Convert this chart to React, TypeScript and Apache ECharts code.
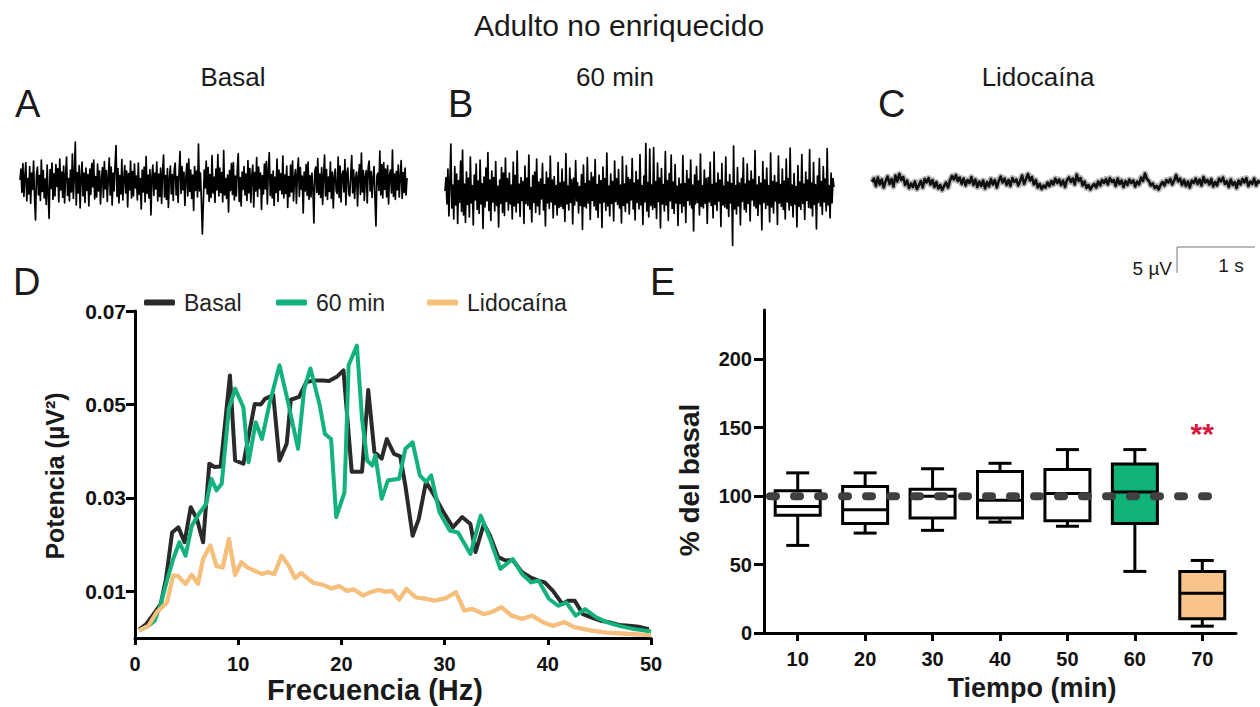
import React, { useEffect, useRef } from "react";
import * as echarts from "echarts";

const FONT = "Liberation Sans, Arial, sans-serif";

// ---------- Panel D : power spectra ----------
const basalFreq = [0.4, 1.1, 1.7, 2.5, 3.0, 3.6, 4.2, 4.8, 5.4, 6.0, 6.6, 7.2, 7.7, 8.3, 9.2, 9.7, 10.5, 11.6, 12.2, 12.6, 13.4, 14.0, 14.7, 15.1, 15.9, 16.6, 17.3, 18.2, 18.8, 19.6, 20.2, 21.0, 22.0, 22.6, 23.2, 23.9, 24.4, 25.1, 25.7, 26.2, 26.9, 27.5, 28.2, 29.0, 29.9, 30.8, 31.7, 32.5, 33.0, 33.8, 34.4, 35.2, 35.9, 36.6, 37.5, 38.3, 39.1, 39.7, 40.5, 41.4, 42.0, 42.6, 43.4, 44.2, 45.1, 45.9, 46.9, 47.9, 48.8, 49.8];
const basalPower = [0.0018, 0.003, 0.0048, 0.0073, 0.0126, 0.0226, 0.0237, 0.0205, 0.028, 0.0255, 0.0205, 0.0373, 0.0366, 0.0367, 0.0562, 0.038, 0.0373, 0.0501, 0.05, 0.0512, 0.052, 0.038, 0.0416, 0.051, 0.0516, 0.0548, 0.0551, 0.0551, 0.055, 0.056, 0.0573, 0.0356, 0.0356, 0.0531, 0.0398, 0.0384, 0.0426, 0.0394, 0.0389, 0.0326, 0.0219, 0.0255, 0.0334, 0.0305, 0.0269, 0.0237, 0.0259, 0.0244, 0.0184, 0.0244, 0.0219, 0.0173, 0.0166, 0.0167, 0.0141, 0.013, 0.0123, 0.0119, 0.0101, 0.0073, 0.008, 0.008, 0.0051, 0.0044, 0.0037, 0.0034, 0.0028, 0.0026, 0.0024, 0.0019];

const min60Freq = [0.4, 1.3, 1.9, 2.5, 3.1, 3.7, 4.3, 4.9, 5.5, 6.2, 6.9, 7.4, 7.9, 8.4, 9.1, 9.7, 10.5, 11.0, 11.7, 12.3, 13.0, 14.0, 14.9, 15.8, 16.4, 17.0, 17.9, 18.4, 19.0, 19.5, 20.3, 20.7, 21.5, 22.0, 22.5, 23.0, 23.3, 23.9, 24.5, 25.6, 26.2, 26.9, 27.6, 28.2, 28.7, 29.5, 30.5, 31.3, 32.5, 33.5, 34.4, 35.4, 36.6, 37.5, 38.4, 39.1, 40.1, 41.0, 41.8, 42.7, 43.6, 44.7, 45.7, 46.9, 48.4, 50.0];
const min60Power = [0.0016, 0.0026, 0.0037, 0.0073, 0.0123, 0.0169, 0.0205, 0.0176, 0.024, 0.0266, 0.0287, 0.0341, 0.0316, 0.033, 0.0491, 0.0534, 0.0494, 0.0376, 0.0462, 0.0426, 0.0498, 0.0584, 0.0498, 0.0405, 0.0534, 0.0577, 0.0498, 0.0437, 0.0426, 0.0259, 0.0312, 0.0584, 0.0626, 0.0469, 0.038, 0.0369, 0.0391, 0.0298, 0.0337, 0.0341, 0.0405, 0.0419, 0.0348, 0.0334, 0.0348, 0.0269, 0.023, 0.0226, 0.018, 0.0262, 0.0212, 0.0148, 0.0169, 0.0137, 0.0119, 0.0123, 0.0084, 0.0069, 0.0076, 0.0048, 0.0062, 0.0044, 0.0034, 0.0026, 0.0019, 0.0014];

const lidoFreq = [0.4, 1.3, 2.1, 3.1, 3.7, 4.2, 4.9, 5.5, 6.1, 6.6, 7.3, 7.9, 8.5, 9.1, 9.7, 10.3, 10.9, 11.7, 12.3, 12.9, 13.5, 14.2, 14.9, 15.5, 16.1, 16.6, 17.3, 18.2, 19.0, 19.8, 20.5, 21.2, 22.1, 22.8, 23.6, 24.3, 24.9, 25.6, 26.3, 27.2, 28.2, 29.0, 30.1, 31.1, 31.9, 32.7, 33.8, 34.6, 35.5, 36.5, 37.5, 38.5, 39.5, 40.5, 41.6, 42.6, 44.2, 45.9, 47.5, 50.0];
const lidoPower = [0.0016, 0.0026, 0.0055, 0.0076, 0.0134, 0.0132, 0.0116, 0.0135, 0.0116, 0.0169, 0.0198, 0.0154, 0.0151, 0.0212, 0.0135, 0.0162, 0.0151, 0.0143, 0.0137, 0.0141, 0.0137, 0.0176, 0.0155, 0.0128, 0.0139, 0.013, 0.0118, 0.0114, 0.0106, 0.0111, 0.0101, 0.0104, 0.0091, 0.0098, 0.0103, 0.0099, 0.0101, 0.0082, 0.0105, 0.0087, 0.0084, 0.008, 0.0085, 0.0098, 0.0059, 0.0062, 0.0051, 0.0056, 0.0066, 0.0048, 0.0041, 0.0048, 0.0034, 0.0026, 0.0034, 0.0023, 0.0016, 0.0011, 0.0009, 0.0006];

const freqTicks = [0, 10, 20, 30, 40, 50];
const powerTicks = [0.01, 0.03, 0.05, 0.07];

// ---------- Panel E : box plots ----------
const timeCategories = ["10", "20", "30", "40", "50", "60", "70"];
const whiskerLow = [64, 73, 75, 81, 78, 45, 5];
const quartile1 = [86, 80, 84, 84, 82, 80, 10.5];
const medians = [92.5, 90, 100, 97, 102, 103, 29];
const quartile3 = [104, 107, 105, 118, 119.5, 123.5, 45];
const whiskerHigh = [117, 117, 120, 124, 134, 134, 53];
const percentTicks = [0, 50, 100, 150, 200];
const baselineLevel = 100;
const sigCategory = 6;
const sigLevel = 146;
const sigLabel = "**";

// ---------- Panels A-C : raw traces (µV) ----------
const traceBasal = [
  0.6, 2.8, -1.9, 3.9, -2.7, 1.2, 4.1, -3.6, 0.9, -2.2, 3.3, -4.1, 2.0, -1.3, 4.4, -2.9, -7.4, 1.8, 3.2, -2.4,
  1.5, -3.5, 4.6, -1.7, 2.5, -3.0, 0.8, -4.3, 3.6, -2.1, -7.1, 2.7, -1.1, 4.0, -3.3, 1.9, -2.6, 3.7, -0.7, 2.9,
  -3.8, 4.8, -1.4, 2.2, -2.9, 3.4, -4.0, 1.6, 5.2, -2.5, 0.9, -3.6, 2.6, -1.8, 5.8, -3.1, 1.4, 8.2, -4.4, 2.1,
  -2.0, 3.5, -5.0, 1.1, 4.2, -2.6, 2.0, -3.9, 3.0, -1.5, 1.7, -4.6, 2.8, -2.3, 3.9, -0.8, 4.6, -3.2, 1.3, -2.8,
  3.8, -1.6, 2.4, -4.2, 0.7, 3.1, -2.9, 4.3, -1.2, 2.5, -3.7, 1.0, 5.0, -2.4, 3.2, -4.4, 2.0, -1.6, 3.6, 7.5,
  -2.7, 2.9, -4.0, 1.5, -2.2, 4.7, -3.4, 0.6, 3.5, -2.0, 2.4, -4.8, 1.9, -1.4, 4.4, -3.0, 2.3, -2.6, 3.8, -1.0,
  1.4, -3.4, 4.0, -2.3, 0.9, -5.2, 2.6, -1.8, 3.2, -3.8, 5.3, -2.1, 1.6, -3.0, 2.7, -6.4, 1.2, 3.6, -2.5, 2.0,
  -1.2, 4.2, -3.6, 1.8, -2.7, 3.0, -4.1, 2.2, 5.6, -2.8, 1.5, -3.3, 2.9, -4.9, 0.8, 3.4, -2.2, 1.7, -3.5, 2.6,
  4.0, -2.4, 1.3, -3.9, 2.1, 6.3, -2.1, 3.3, -1.4, 2.2, -4.5, 1.0, 3.9, -2.6, 4.8, -1.7, 2.6, -3.1, 1.6, -5.5,
  3.3, -1.5, 2.4, -2.8, 7.8, -1.6, 2.0, -3.4, -10.2, -4.0, 2.6, -1.0, 4.4, -2.2, 3.1, -3.7, 1.7, -2.9, 5.5, -2.0,
  1.2, -3.9, 2.8, -1.4, 5.7, -2.6, 3.0, -1.9, 2.1, -3.8, 6.5, -2.4, 0.9, -3.1, 1.6, -5.8, 2.5, -1.5, 3.9, -2.3,
  4.1, -3.4, 1.4, -2.6, 2.5, 5.9, -3.7, 1.1, -4.6, 2.2, -1.3, 3.3, -2.4, 1.8, -3.5, 4.5, -2.0, 2.9, -3.9, 1.4,
  3.6, -4.8, 2.1, -1.6, 5.1, -2.7, 3.2, -1.1, 2.0, -5.3, 1.5, -2.2, 3.8, -1.2, 4.3, -4.2, 2.3, 6.1, -2.5, 1.7,
  -3.0, 2.4, -4.5, 1.2, -1.9, 4.8, -3.7, 2.6, -1.4, 1.9, -2.2, 5.4, -3.0, 1.6, -2.1, 3.4, -4.9, 1.3, -2.7, 3.6,
  -1.8, 4.4, -3.6, 1.0, 2.7, -4.1, 1.9, 5.0, -2.7, 3.1, -1.3, 1.4, -6.0, 2.2, -1.6, 3.7, -2.5, 4.2, -3.3, 1.5,
  -2.8, 2.0, -1.2, -8.0, 2.4, 3.2, -1.9, 4.9, -2.3, 1.8, -2.9, 3.1, -4.3, 1.5, 5.6, -2.6, 2.7, -3.3, 1.2, -1.7,
  4.2, -3.1, 2.2, -5.0, 1.3, 2.8, -1.6, -2.1, 5.2, -2.9, 3.4, -3.8, 1.6, 2.4, -1.8, 4.7, -4.4, 1.9, 3.0, -2.3,
  -2.6, 1.5, 5.5, -2.0, 2.6, -3.1, 1.0, 2.2, -4.6, 1.4, 3.7, -2.3, 6.0, -1.8, 2.5, -3.5, 1.2, 2.5, -4.0, 3.1,
  4.4, -1.6, 2.3, -2.9, 1.1, 3.3, -3.2, -8.6, 1.4, 2.0, -1.5, 6.4, -2.4, 3.7, -3.0, 4.1, -1.3, 2.8, -2.8, 3.5,
  -4.2, 1.6, 2.6, -2.0, 6.6, -2.7, 1.8, -3.3, 2.3, -1.4, 3.6, -2.8, 1.2, 4.5, -3.1, 2.1, -1.9, 3.0, -2.4, 1.0,
];
const trace60 = [
  0.4, 3.1, -2.2, 4.8, -4.6, 2.0, 9.8, -3.0, 1.6, -5.2, 5.3, -2.4, 3.8, -6.1, 2.5, -1.9, 6.4, -3.7, 8.6, -4.4,
  1.8, -5.9, 4.2, -2.3, 3.0, -4.8, 7.2, -2.0, 1.5, -6.4, 3.6, -1.4, 5.8, -3.3, 2.4, -4.1, 6.6, -2.2, 1.9, -7.1,
  3.2, -2.8, 5.0, -1.6, 8.1, -3.5, 2.6, -5.5, 4.4, -1.8, 3.1, -3.6, 6.3, -2.5, 1.4, -6.8, 2.6, -2.1, 5.1, -3.9,
  4.0, -4.5, 7.0, -1.7, 2.9, -3.4, 4.0, -2.2, 1.6, -5.2, 6.2, -2.6, 3.5, -3.8, 8.4, -2.0, 1.8, -4.7, 3.1, -1.5,
  2.3, -6.1, 5.4, -2.1, 3.0, -2.5, 7.6, -3.2, 1.1, -5.8, 3.5, -1.9, 4.2, -3.9, 6.8, -2.6, 2.2, -4.3, 2.8, -1.2,
  5.9, -3.4, 1.7, -6.6, 4.2, -2.0, 3.0, -3.1, 7.4, -1.8, 2.6, -5.0, 3.3, -2.3, 1.5, -4.4, 6.1, -2.9, 2.0, -2.7,
  4.8, -3.1, 2.2, -5.7, 7.9, -2.2, 1.4, -3.4, 5.0, -1.9, 2.7, -6.2, 3.0, -2.4, 6.5, -1.6, 2.1, -4.0, 1.3, -2.5,
  3.7, -7.3, 5.6, -2.7, 1.9, -3.0, 7.1, -2.0, 2.4, -5.3, 4.1, -1.5, 3.2, -2.6, 6.7, -3.4, 1.7, -4.9, 3.6, -2.0,
  2.5, -6.9, 5.2, -1.8, 2.9, -3.5, 8.0, -2.6, 1.4, -4.6, 3.8, -2.1, 2.3, -5.6, 6.4, -1.7, 2.9, -2.3, 4.7, -3.0,
  1.6, -6.0, 7.3, -2.5, 1.8, -3.7, 5.5, -2.0, 3.1, -4.2, 2.7, -1.4, 6.9, -3.2, 2.0, -5.4, 4.3, -1.9, 2.6, -3.2,
  7.7, -2.4, 1.5, -6.3, 3.4, -1.8, 9.9, -3.6, 2.1, -4.8, 8.8, -2.5, 1.6, -3.3, 9.1, -2.9, 2.3, -5.1, 6.0, -1.7,
  3.0, -7.0, 4.9, -2.2, 1.7, -3.6, 8.3, -2.4, 2.5, -5.5, 3.9, -1.6, 7.6, -3.1, 2.2, -4.1, 5.7, -2.0, 1.4, -6.5,
  3.0, -2.1, 1.8, -3.9, 7.5, -2.6, 1.9, -5.9, 4.5, -1.5, 2.8, -2.4, 6.6, -3.0, 1.6, -7.6, 3.6, -2.2, 5.3, -1.9,
  2.4, -4.4, 7.8, -2.7, 1.5, -3.0, 4.6, -2.1, 2.9, -6.1, 3.1, -1.8, 6.2, -2.5, 1.7, -5.0, 8.2, -2.3, 2.0, -3.5,
  4.0, -1.6, 2.6, -6.7, 5.9, -2.4, 1.4, -2.8, 7.2, -3.1, 2.2, -4.7, 3.7, -2.0, 1.9, -10.5, 9.4, -3.2, 1.5, -4.2,
  5.1, -2.6, 2.0, -6.4, 2.9, -1.7, 7.0, -3.3, 1.8, -3.8, 5.8, -2.1, 2.4, -5.6, 4.4, -1.4, 2.7, -2.6, 8.5, -3.0,
  1.6, -4.5, 3.3, -2.2, 2.0, -7.4, 6.3, -1.9, 2.6, -3.1, 5.0, -2.4, 1.5, -5.8, 8.0, -2.8, 2.3, -4.0, 3.5, -1.6,
  2.1, -6.3, 7.4, -2.0, 1.7, -2.7, 4.8, -3.3, 2.4, -5.2, 6.8, -1.8, 2.9, -3.4, 9.0, -2.5, 1.6, -4.8, 3.9, -2.2,
  1.3, -6.8, 5.5, -2.7, 2.2, -3.3, 7.7, -2.1, 1.8, -5.3, 4.2, -1.5, 2.6, -2.9, 8.7, -3.0, 2.0, -4.6, 6.1, -2.3,
  1.7, -7.2, 3.4, -1.9, 6.9, -2.6, 2.3, -4.3, 5.3, -1.8, 2.8, -3.6, 8.9, -2.4, 1.5, -5.0, 4.0, -2.0, 2.9, 1.2,
];
const traceLido = [
  0.2, 0.9, -0.6, 1.1, -0.3, 0.7, -0.9, 0.4, 1.3, -0.2, 0.8, -0.7, 1.5, 0.3, 1.8, 0.6, 1.2, -0.4, 0.5, -1.0,
  -0.1, -0.8, 0.3, -1.2, -0.5, 0.4, -0.9, 0.8, 0.1, 1.0, -0.3, 0.6, -0.8, 0.2, -1.1, -0.4, -1.4, -0.6, 0.1, -0.9,
  0.5, 1.4, 0.7, 1.6, 0.4, 1.1, -0.2, 0.9, -0.5, 0.6, 0.0, 1.2, -0.4, 0.7, -0.8, 0.3, -0.6, 0.5, -1.1, 0.2,
  -0.7, 0.8, -0.3, 0.6, -0.9, 0.4, 1.3, 0.1, 0.9, -0.4, 0.6, -0.6, 1.0, 0.2, 0.7, -0.5, 0.4, 1.5, -0.2, 0.8,
  1.8, 0.5, 1.2, -0.3, 0.6, -0.9, -0.2, -1.2, -0.5, -0.9, 0.1, -0.6, 0.4, -0.3, 0.9, 0.0, 0.7, -0.4, 0.5, -0.8,
  0.6, 1.1, 0.2, 0.9, -0.3, 1.7, 0.4, 1.0, -0.5, 0.3, -1.0, -0.4, -1.3, -0.6, -0.2, -0.9, 0.3, -0.5, 0.6, 0.0,
  0.8, -0.3, 1.0, 0.2, 0.6, -0.6, 0.9, -0.2, 0.5, -0.8, 0.4, -0.4, 0.7, 0.0, 0.5, -0.7, 0.3, -0.3, 1.1, 0.4,
  1.9, 0.8, 0.4, -0.5, -0.1, -1.0, -0.6, -1.3, -0.4, 0.2, -0.5, 0.6, 0.1, 0.8, -0.3, 0.5, 1.6, 0.3, 0.9, -0.4,
  0.6, -0.6, 0.3, -0.9, 0.5, 0.0, 0.9, -0.2, 0.7, -0.5, 1.2, 0.1, 0.6, -0.3, 0.8, -0.7, 0.2, -0.5, 0.9, 0.3,
  1.1, -0.2, 0.4, -0.8, 0.7, -0.4, 0.2, -1.0, 0.5, -0.3, 0.8, 0.1, 1.0, -0.6, 0.3, -0.2, 0.9, -0.5, 0.4, 0.0,
];

// styles (kept apart from data)
const COLORS = { basal: "#2a2a2a", min60: "#12b27a", lido: "#f6bf7c" };
const boxFills = ["#ffffff", "#ffffff", "#ffffff", "#ffffff", "#ffffff", "#0fb277", "#f9c48a"];

function zip(xs: number[], ys: number[]) {
  return xs.map((x, i) => [x, ys[i]]);
}

function buildOption(): any {
  const legendCommon = {
    top: 291,
    padding: 0,
    itemWidth: 31,
    itemHeight: 6,
    icon: "roundRect",
    textStyle: { fontFamily: FONT, fontSize: 23, color: "#222", padding: [0, 0, 0, 4] },
  };
  const boldAxisLabel = { fontFamily: FONT, fontWeight: "bold", color: "#111" };

  const textEl = (text: string, x: number, y: number, size: number, opts: any = {}) => ({
    type: "text",
    x,
    y,
    rotation: opts.rotation || 0,
    style: {
      text,
      fontFamily: FONT,
      fontSize: size,
      fontWeight: opts.bold ? "bold" : "normal",
      fill: opts.color || "#1a1a1a",
      textAlign: opts.align || "center",
      textVerticalAlign: "middle",
    },
  });

  const traceSeries = (data: number[], idx: number, color: string, width: number, z = 2) => ({
    type: "line",
    xAxisIndex: idx,
    yAxisIndex: idx,
    data,
    showSymbol: false,
    silent: true,
    z,
    lineStyle: { color, width, join: "round" },
  });

  return {
    animation: false,
    backgroundColor: "#ffffff",
    grid: [
      { left: 135, right: 609, top: 311, bottom: 69 },
      { left: 764, right: 24, top: 310, bottom: 74 },
      { left: 20, width: 387, top: 123, height: 120 },
      { left: 445, width: 389, top: 133, height: 120 },
      { left: 872, width: 388, top: 123, height: 120 },
    ],
    legend: [
      { ...legendCommon, left: 144, data: ["Basal"] },
      { ...legendCommon, left: 276, data: ["60 min"] },
      { ...legendCommon, left: 427, data: ["Lidocaína"] },
    ],
    xAxis: [
      {
        type: "value",
        gridIndex: 0,
        min: freqTicks[0],
        max: freqTicks[freqTicks.length - 1],
        interval: 10,
        splitLine: { show: false },
        axisLine: { show: true, lineStyle: { color: "#000", width: 3 } },
        axisTick: { show: true, length: 7, lineStyle: { color: "#000", width: 3 } },
        axisLabel: { ...boldAxisLabel, fontSize: 20, margin: 16 },
      },
      {
        type: "category",
        gridIndex: 1,
        data: timeCategories,
        axisLine: { show: true, lineStyle: { color: "#000", width: 3 } },
        axisTick: { show: true, alignWithLabel: true, length: 8, lineStyle: { color: "#000", width: 3 } },
        axisLabel: { ...boldAxisLabel, fontSize: 20, margin: 16 },
      },
      { type: "category", gridIndex: 2, show: false, boundaryGap: false },
      { type: "category", gridIndex: 3, show: false, boundaryGap: false },
      { type: "category", gridIndex: 4, show: false, boundaryGap: false },
    ],
    yAxis: [
      {
        type: "value",
        gridIndex: 0,
        min: 0,
        max: 0.07,
        interval: 0.01,
        splitLine: { show: false },
        axisLine: { show: true, lineStyle: { color: "#000", width: 3 } },
        axisTick: { show: true, length: 9, customValues: powerTicks, lineStyle: { color: "#000", width: 3 } },
        axisLabel: {
          ...boldAxisLabel,
          fontSize: 21,
          margin: 9,
          customValues: powerTicks,
          formatter: (v: number) => v.toFixed(2),
        },
      },
      {
        type: "value",
        gridIndex: 1,
        min: 0,
        max: 236,
        interval: 50,
        splitLine: { show: false },
        axisLine: { show: true, lineStyle: { color: "#000", width: 3 } },
        axisTick: { show: true, length: 10, customValues: percentTicks, lineStyle: { color: "#000", width: 3 } },
        axisLabel: { ...boldAxisLabel, fontSize: 20, margin: 12, customValues: percentTicks },
      },
      { type: "value", gridIndex: 2, show: false, min: -12, max: 12 },
      { type: "value", gridIndex: 3, show: false, min: -12, max: 12 },
      { type: "value", gridIndex: 4, show: false, min: -12, max: 12 },
    ],
    series: [
      {
        name: "Basal",
        type: "line",
        xAxisIndex: 0,
        yAxisIndex: 0,
        data: zip(basalFreq, basalPower),
        showSymbol: false,
        color: COLORS.basal,
        lineStyle: { color: COLORS.basal, width: 4, join: "round" },
      },
      {
        name: "60 min",
        type: "line",
        xAxisIndex: 0,
        yAxisIndex: 0,
        data: zip(min60Freq, min60Power),
        showSymbol: false,
        color: COLORS.min60,
        lineStyle: { color: COLORS.min60, width: 4, join: "round" },
      },
      {
        name: "Lidocaína",
        type: "line",
        xAxisIndex: 0,
        yAxisIndex: 0,
        data: zip(lidoFreq, lidoPower),
        showSymbol: false,
        color: COLORS.lido,
        lineStyle: { color: COLORS.lido, width: 4, join: "round", shadowColor: "rgba(200,130,60,0.6)", shadowBlur: 1 },
      },
      {
        type: "custom",
        xAxisIndex: 1,
        yAxisIndex: 1,
        silent: true,
        encode: { x: 0, y: [1, 2, 3, 4, 5] },
        data: timeCategories.map((_, i) => [i, whiskerLow[i], quartile1[i], medians[i], quartile3[i], whiskerHigh[i]]),
        renderItem: (params: any, api: any) => {
          const c = api.value(0);
          const pLo = api.coord([c, api.value(1)]);
          const yQ1 = api.coord([c, api.value(2)])[1];
          const yMed = api.coord([c, api.value(3)])[1];
          const yQ3 = api.coord([c, api.value(4)])[1];
          const yHi = api.coord([c, api.value(5)])[1];
          const cx = pLo[0];
          const yLo = pLo[1];
          const half = 22.5;
          const cap = 11.5;
          const st = { stroke: "#000", lineWidth: 3 };
          return {
            type: "group",
            children: [
              { type: "line", shape: { x1: cx, y1: yQ3, x2: cx, y2: yHi }, style: st },
              { type: "line", shape: { x1: cx - cap, y1: yHi, x2: cx + cap, y2: yHi }, style: st },
              { type: "line", shape: { x1: cx, y1: yQ1, x2: cx, y2: yLo }, style: st },
              { type: "line", shape: { x1: cx - cap, y1: yLo, x2: cx + cap, y2: yLo }, style: st },
              {
                type: "rect",
                shape: { x: cx - half, y: yQ3, width: half * 2, height: yQ1 - yQ3 },
                style: { fill: boxFills[params.dataIndex], stroke: "#000", lineWidth: 3 },
              },
              { type: "line", shape: { x1: cx - half, y1: yMed, x2: cx + half, y2: yMed }, style: st },
            ],
          };
        },
        z: 2,
      },
      {
        type: "custom",
        xAxisIndex: 1,
        yAxisIndex: 1,
        silent: true,
        data: [[0, baselineLevel]],
        renderItem: (params: any, api: any) => {
          const y = api.coord([0, api.value(1)])[1];
          const cs = params.coordSys;
          return {
            type: "line",
            shape: { x1: cs.x + 6, y1: y, x2: cs.x + cs.width - 16, y2: y },
            style: { stroke: "#404040", lineWidth: 8, lineDash: [6, 18], lineCap: "round" },
          };
        },
        z: 5,
      },
      {
        type: "custom",
        xAxisIndex: 1,
        yAxisIndex: 1,
        silent: true,
        data: [[sigCategory, sigLevel]],
        renderItem: (params: any, api: any) => {
          const p = api.coord([api.value(0), api.value(1)]);
          return {
            type: "text",
            x: p[0],
            y: p[1],
            style: {
              text: sigLabel,
              fontFamily: FONT,
              fontWeight: "bold",
              fontSize: 30,
              fill: "#d6163c",
              textAlign: "center",
              textVerticalAlign: "middle",
            },
          };
        },
        z: 6,
      },
      traceSeries(traceBasal, 2, "#000", 1.7),
      traceSeries(trace60, 3, "#000", 1.7),
      traceSeries(traceLido, 4, "#b5b5b5", 6, 1),
      traceSeries(traceLido, 4, "#111", 2.6, 2),
    ],
    graphic: [
      textEl("Adulto no enriquecido", 619, 25, 30),
      textEl("Basal", 233, 77, 26),
      textEl("60 min", 615, 77, 26),
      textEl("Lidocaína", 1038, 77, 26),
      textEl("A", 15, 104, 38, { align: "left" }),
      textEl("B", 448, 104, 38, { align: "left" }),
      textEl("C", 878, 104, 38, { align: "left" }),
      textEl("D", 13, 282, 38, { align: "left" }),
      textEl("E", 650, 282, 38, { align: "left" }),
      textEl("Potencia (µV²)", 55, 476, 25, { bold: true, rotation: Math.PI / 2 }),
      textEl("Frecuencia (Hz)", 375, 690, 29, { bold: true }),
      textEl("% del basal", 689, 480, 28, { bold: true, rotation: Math.PI / 2 }),
      textEl("Tiempo (min)", 1032, 688, 27, { bold: true }),
      {
        type: "polyline",
        shape: { points: [[1177, 273], [1177, 247], [1255, 247]] },
        style: { stroke: "#777", lineWidth: 1, fill: null },
      },
      textEl("5 µV", 1172, 268, 19, { align: "right" }),
      textEl("1 s", 1231, 265, 19),
    ],
  };
}

export default function App() {
  const ref = useRef<HTMLDivElement>(null);
  useEffect(() => {
    if (!ref.current) return;
    const chart = echarts.init(ref.current, null, { renderer: "svg" });
    chart.setOption(buildOption());
    return () => chart.dispose();
  }, []);
  return (
    <div
      ref={ref}
      style={{ position: "fixed", left: 0, top: 0, width: 1260, height: 707, background: "#fff" }}
    />
  );
}
